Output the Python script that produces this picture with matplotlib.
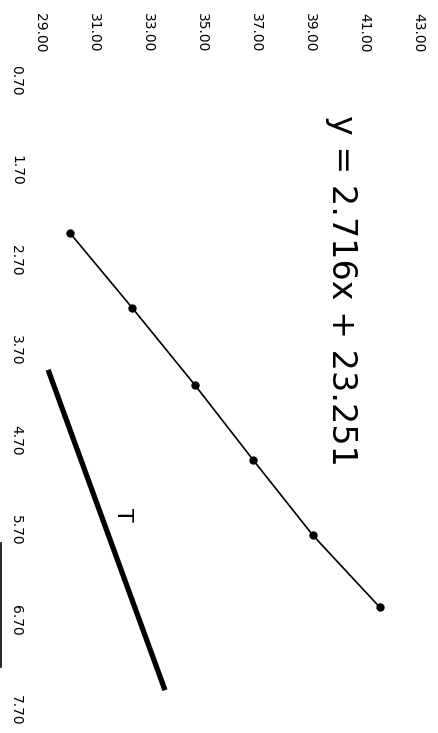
import matplotlib
matplotlib.use("Agg")
import matplotlib.pyplot as plt
from matplotlib.lines import Line2D

# chart is printed turned 90 degrees clockwise: x values run down, y values run right
x_vals = [2.40, 3.23, 4.09, 4.92, 5.76, 6.56]
y_vals = [30.11, 32.41, 34.74, 36.89, 39.11, 41.59]

# thick line marked "T"
t_x = [3.92, 7.48]
t_y = [29.30, 33.63]

x_ticks = [0.70, 1.70, 2.70, 3.70, 4.70, 5.70, 6.70, 7.70]
y_ticks = [29.0, 31.0, 33.0, 35.0, 37.0, 39.0, 41.0, 43.0]

equation = "y = 2.716x + 23.251"

plt.rcParams['font.family'] = ['DejaVu Sans']

fig = plt.figure(figsize=(4.38, 7.33), dpi=100)
ax = fig.add_axes([40/438, 1 - 710/733, 378/438, 630/733])

ax.plot(y_vals, x_vals, color='black', lw=1.2, marker='o', ms=5)
ax.plot(t_y, t_x, color='black', lw=3.8, solid_capstyle='butt')

ax.text(40.15, 3.04, equation, rotation=-90, ha='center', va='center', fontsize=24)
ax.text(32.07, 5.53, "T", rotation=-90, ha='center', va='center', fontsize=16)

ax.set_xlim(29, 43)
ax.set_ylim(7.7, 0.7)
ax.set_xticks(y_ticks)
ax.set_xticklabels(["%.2f" % v for v in y_ticks])
ax.set_yticks(x_ticks)
ax.set_yticklabels(["%.2f" % v for v in x_ticks], va='center')

ax.xaxis.tick_top()
ax.tick_params(axis='x', length=0, pad=20, labelrotation=-90, labelsize=10)
ax.tick_params(axis='y', length=0, pad=12, labelrotation=-90, labelsize=10)
for s in ax.spines.values():
    s.set_visible(False)

# edge of a box cut off at the left border
fig.add_artist(Line2D([0.003, 0.003], [1 - 543/733, 1 - 667/733],
                      transform=fig.transFigure, color='black', lw=1.2))

fig.savefig("out.png", dpi=100)
